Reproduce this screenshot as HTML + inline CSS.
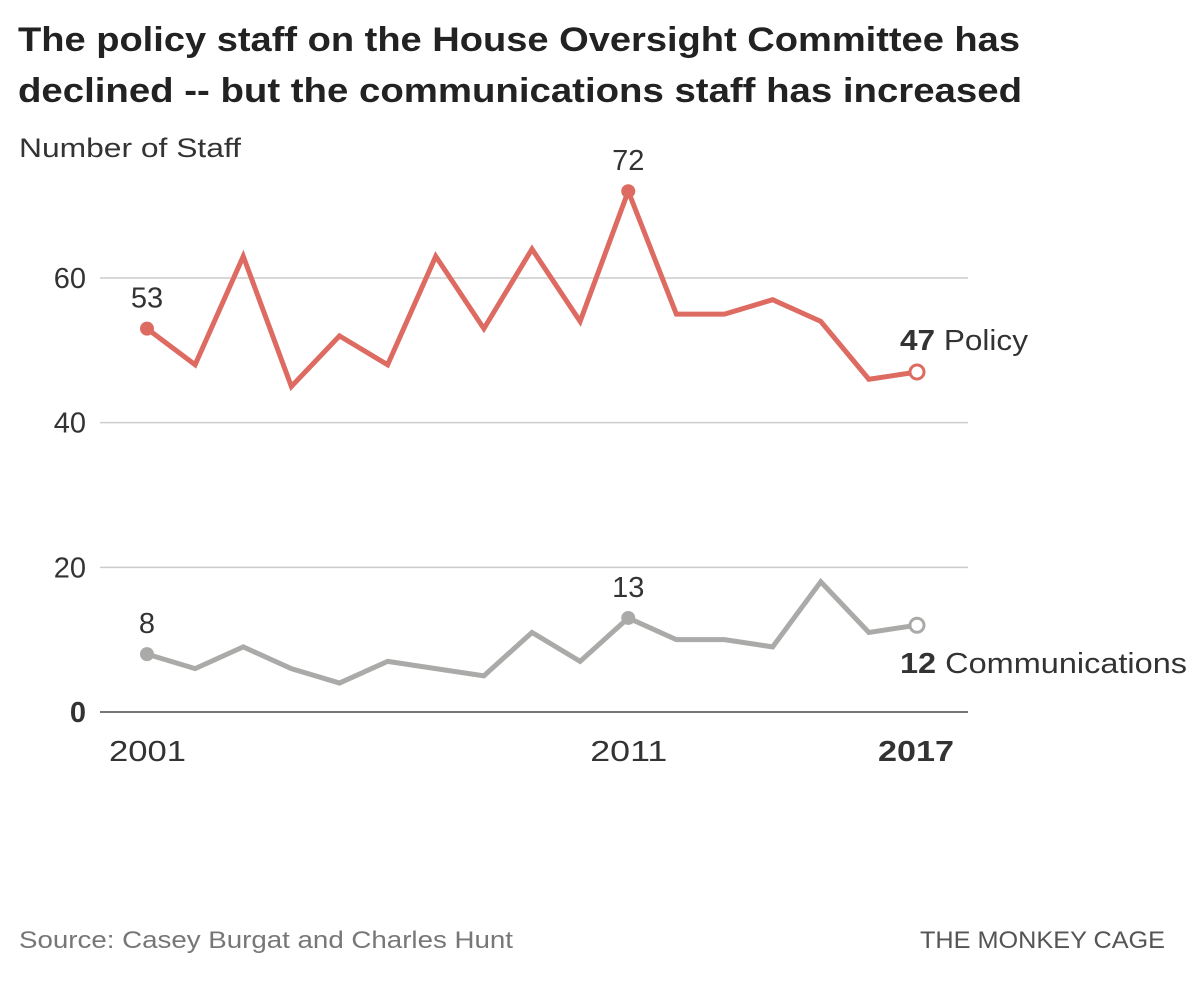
<!DOCTYPE html>
<html><head><meta charset="utf-8"><style>
body{margin:0;background:#fff;width:1194px;height:982px;overflow:hidden;font-family:"Liberation Sans",sans-serif;}
svg text{font-family:"Liberation Sans",sans-serif;}
</style></head><body>
<svg width="1194" height="982">
<text x="18" y="51" font-size="34" font-weight="bold" fill="#222" textLength="1002" lengthAdjust="spacingAndGlyphs">The policy staff on the House Oversight Committee has</text>
<text x="18" y="102" font-size="34" font-weight="bold" fill="#222" textLength="1004" lengthAdjust="spacingAndGlyphs">declined -- but the communications staff has increased</text>
<text x="19" y="157" font-size="27" fill="#333" textLength="222" lengthAdjust="spacingAndGlyphs">Number of Staff</text>
<g id="grid"></g>
<g id="lines"></g>
<text x="19" y="948" font-size="24" fill="#777" textLength="494" lengthAdjust="spacingAndGlyphs">Source: Casey Burgat and Charles Hunt</text>
<text x="920" y="948" font-size="24" fill="#555" textLength="245" lengthAdjust="spacingAndGlyphs">THE MONKEY CAGE</text>
</svg>
<script>
const years=[2001,2002,2003,2004,2005,2006,2007,2008,2009,2010,2011,2012,2013,2014,2015,2016,2017];
const policy=[53,48,63,45,52,48,63,53,64,54,72,55,55,57,54,46,47];
const comms=[8,6,9,6,4,7,6,5,11,7,13,10,10,9,18,11,12];
const yTicks=[0,20,40,60];
const xTicks=[2001,2011,2017];
const NS="http://www.w3.org/2000/svg";
const x=v=>147+(v-2001)*(917-147)/16;
const y=v=>712-v*(712-278)/60;
function mk(t,a,p){const e=document.createElementNS(NS,t);for(const k in a)e.setAttribute(k,a[k]);p.appendChild(e);return e;}
const grid=document.getElementById('grid'),lines=document.getElementById('lines');
yTicks.forEach(t=>{
 const l=mk('line',{x1:100,x2:968,y1:y(t),y2:y(t),stroke:t===0?'#777':'#ccc','stroke-width':t===0?2:1.5},grid);
 
 
 const tx=mk('text',{x:86,y:y(t)+10,'font-size':29,fill:'#333','text-anchor':'end','font-weight':t===0?'bold':'normal'},grid);
 tx.textContent=t;
 
 
});
xTicks.forEach(t=>{
 const last=t===2017;
 const tx=mk('text',{x:last?878:x(t)-38,y:761,'font-size':29,fill:'#333','font-weight':last?'bold':'normal',textLength:last?76:77,lengthAdjust:'spacingAndGlyphs'},grid);
 tx.textContent=t;
 
 
});
function series(vals,color,name,labIdx){
 const d=vals.map((v,i)=>(i?'L':'M')+x(years[i])+','+y(v)).join('');
 const p=mk('path',{d:d,fill:'none',stroke:color,'stroke-width':5,'stroke-linejoin':'miter'},lines);
 
 
 labIdx.forEach(i=>{
  const c=mk('circle',{cx:x(years[i]),cy:y(vals[i]),r:7,fill:color},lines);
  
  
  const t=mk('text',{x:x(years[i]),y:y(vals[i])-21,'font-size':29,fill:'#333','text-anchor':'middle'},lines);
  t.textContent=vals[i];
  
  
 });
 const n=vals.length-1;
 const c=mk('circle',{cx:x(years[n]),cy:y(vals[n]),r:7,fill:'#fff',stroke:color,'stroke-width':3},lines);
 
 
}
series(policy,'#dd6b62','policy',[0,10]);
series(comms,'#aaaaa8','comms',[0,10]);
const pl=mk('text',{x:900,y:y(policy[16])-22,'font-size':29,fill:'#333',textLength:128,lengthAdjust:'spacingAndGlyphs'},lines);
pl.innerHTML='<tspan font-weight="bold">'+policy[16]+'</tspan> Policy';


const cl=mk('text',{x:900,y:y(comms[16])+48,'font-size':29,fill:'#333',textLength:287,lengthAdjust:'spacingAndGlyphs'},lines);
cl.innerHTML='<tspan font-weight="bold">'+comms[16]+'</tspan> Communications';


</script>
</body></html>
